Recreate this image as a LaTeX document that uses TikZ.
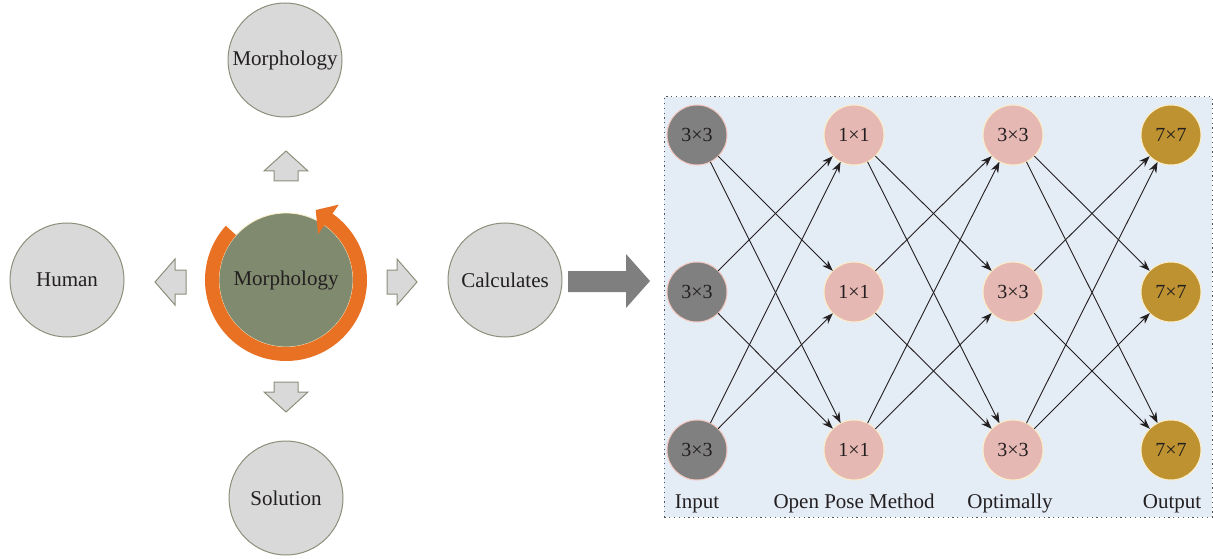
\documentclass[tikz,border=0pt]{standalone}
\usepackage{fontspec}
\setmainfont{Liberation Serif}
\usetikzlibrary{arrows.meta}
\definecolor{cgray}{HTML}{D9D9D9}
\definecolor{cborder}{HTML}{8C8F7A}
\definecolor{ctext}{HTML}{231F20}
\definecolor{cgreen}{HTML}{808A6E}
\definecolor{corange}{HTML}{E97124}
\definecolor{cbig}{HTML}{7F7F7F}
\definecolor{cbox}{HTML}{E4ECF6}
\definecolor{cdot}{HTML}{555555}
\definecolor{cdark}{HTML}{808080}
\definecolor{cpink}{HTML}{E6B8B3}
\definecolor{cpinkb}{HTML}{F4C7BE}
\definecolor{cyel}{HTML}{FCEFC8}
\definecolor{cgold}{HTML}{BE9230}
\begin{document}
\begin{tikzpicture}[x=1pt,y=1pt,
  bub/.style={circle,draw=cborder,line width=1pt,fill=cgray,minimum size=114pt,inner sep=0pt,font=\fontsize{21}{23}\selectfont,text=ctext},
  blk/.style={fill=cgray,draw=cborder,line width=1pt},
  nn/.style={circle,minimum size=60pt,inner sep=0pt,outer sep=0pt,line width=1pt,font=\fontsize{20}{22}\selectfont,text=ctext},
  inn/.style={nn,fill=cdark,draw=cpinkb},
  midn/.style={nn,fill=cpink,draw=cyel},
  outn/.style={nn,fill=cgold,draw=cyel},
  lab/.style={font=\fontsize{21}{23}\selectfont,text=ctext,anchor=base},
  con/.style={draw=ctext,line width=0.9pt,-{Stealth[length=11pt,width=8pt]}}
]
\useasboundingbox (0,0) rectangle (1213,558);

% left part
\node[bub] (mtop) at (285,498) {Morphology};
\node[bub] (human) at (67,278) {Human};
\node[bub] (calc) at (505,278) {Calculates};
\node[bub] (sol) at (286,60) {Solution};

\node[circle,fill=cgreen,draw=cyel,line width=0.8pt,minimum size=134pt,inner sep=0pt,font=\fontsize{21}{23}\selectfont,text=ctext] (core) at (286,278) {Morphology};
\begin{scope}[shift={(286,278)}]
\fill[corange] (138:81) arc[start angle=138,end angle=415,radius=81]
  -- (55:92) -- (67:76) -- (55:56) -- (55:67)
  arc[start angle=415,end angle=138,radius=67] -- cycle;
\end{scope}

% small block arrows
\draw[blk] (274,377) -- (274,387) -- (264,387) -- (286,407) -- (308,387) -- (298,387) -- (298,377) -- cycle;
\draw[blk] (274,176) -- (274,166) -- (264,166) -- (286,146) -- (308,166) -- (298,166) -- (298,176) -- cycle;
\draw[blk] (186,264) -- (175,264) -- (175,253) -- (155,276) -- (175,299) -- (175,288) -- (186,288) -- cycle;
\draw[blk] (387,264) -- (397,264) -- (397,253) -- (417,276) -- (397,299) -- (397,288) -- (387,288) -- cycle;

% big arrow
\fill[cbig] (568,287) -- (626,287) -- (626,304) -- (650,277) -- (626,250) -- (626,266) -- (568,266) -- cycle;

% network box
\draw[draw=cdot,line width=1pt,dash pattern=on 1.2pt off 3.6pt,fill=cbox] (664,41) rectangle (1212,461);

\node[inn] (c1r1) at (697,423) {3×3};
\node[inn] (c1r2) at (697,266) {3×3};
\node[inn] (c1r3) at (697,108) {3×3};
\node[midn] (c2r1) at (854,423) {1×1};
\node[midn] (c2r2) at (854,266) {1×1};
\node[midn] (c2r3) at (854,108) {1×1};
\node[midn] (c3r1) at (1013,423) {3×3};
\node[midn] (c3r2) at (1013,266) {3×3};
\node[midn] (c3r3) at (1013,108) {3×3};
\node[outn] (c4r1) at (1171,423) {7×7};
\node[outn] (c4r2) at (1171,266) {7×7};
\node[outn] (c4r3) at (1171,108) {7×7};

\foreach \a/\b in {1/2,2/3,3/4}
  \foreach \r in {1,2,3}
    \foreach \s in {1,2,3}
      {\ifnum\r=\s\else\draw[con] (c\a r\r) -- (c\b r\s);\fi}

\node[lab] (lin) at (697,50) {Input};
\node[lab] (lopm) at (854,50) {Open Pose Method};
\node[lab] (lopt) at (1010,50) {Optimally};
\node[lab] (lout) at (1172,50) {Output};
\end{tikzpicture}
\end{document}
